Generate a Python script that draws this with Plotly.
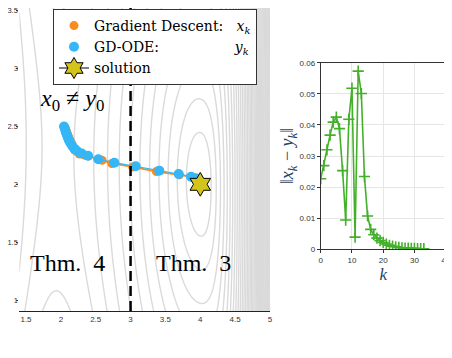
import numpy as np
import plotly.graph_objects as go

# GD-ODE iterates y_k
ode_x = [2.045, 2.058, 2.070, 2.083, 2.097, 2.114, 2.136, 2.163, 2.198, 2.240,
         2.300, 2.390, 2.537, 2.767, 3.074, 3.412, 3.690, 3.867, 3.935, 3.965,
         3.980, 3.988, 3.993, 3.996, 3.998, 3.999, 3.999, 4.000, 4.000, 4.000,
         4.000, 4.000, 4.000, 4.000]
ode_y = [2.500, 2.478, 2.455, 2.432, 2.408, 2.383, 2.357, 2.331, 2.306, 2.284,
         2.266, 2.247, 2.216, 2.187, 2.156, 2.118, 2.089, 2.066, 2.052, 2.040,
         2.031, 2.024, 2.018, 2.013, 2.010, 2.007, 2.005, 2.004, 2.003, 2.002,
         2.001, 2.001, 2.000, 2.000]

# gradient descent iterates x_k
gd_x = [2.064, 2.080, 2.095, 2.112, 2.130, 2.150, 2.166, 2.177, 2.197, 2.265,
        2.342, 2.392, 2.592, 2.731, 3.030, 3.370, 3.700, 3.872, 3.937, 3.966,
        3.980, 3.988, 3.993, 3.996, 3.998, 3.999, 4.000, 4.000, 4.000, 4.000,
        4.000, 4.000, 4.000, 4.000]
gd_y = [2.486, 2.462, 2.436, 2.410, 2.384, 2.359, 2.336, 2.315, 2.296, 2.262,
        2.252, 2.244, 2.207, 2.180, 2.150, 2.110, 2.082, 2.064, 2.050, 2.038,
        2.030, 2.023, 2.017, 2.013, 2.009, 2.007, 2.005, 2.004, 2.003, 2.002,
        2.001, 2.001, 2.000, 2.000]

sol_x = [4.0]
sol_y = [2.0]

# ||x_k - y_k||
k_vals = list(range(34))
diff = [0.0227, 0.0269, 0.0320, 0.0367, 0.0409, 0.0425, 0.0388, 0.0253, 0.0094, 0.0418,
        0.0518, 0.0039, 0.0573, 0.0501, 0.0234, 0.0107, 0.0064, 0.0047, 0.0036, 0.0028,
        0.0022, 0.0017, 0.0013, 0.0010, 0.0008, 0.0006, 0.0005, 0.0004, 0.0004, 0.0003,
        0.0003, 0.0002, 0.0002, 0.0002]
diff_ticks = [0, 0.01, 0.02, 0.03, 0.04, 0.05, 0.06]
diff_labels = ["0", "0.01", "0.02", "0.03", "0.04", "0.05", "0.06"]

# objective landscape (for the grey level sets)
gx = np.linspace(1.4, 5.0, 480)
gy = np.linspace(0.9, 3.6, 360)
X, Y = np.meshgrid(gx, gy)
d = X - 4
u = np.where(d >= 0, d * np.exp(1.6 * d), -d - 0.029 * d ** 4)
c = 2 + 0.14 * (4 - X)
Z = np.sqrt(u ** 2 + 0.2 * (Y - c) ** 2)

serif = "DejaVu Serif"
tserif = "Liberation Serif"
sans = "Liberation Sans"
orange = "#f98c1c"
blue = "#35b6f6"
green = "#43b02a"

# page body keeps an 8px margin, so the figure is 444x350 placed at (8, 8)
W, H = 444, 350

def px(x):
    return (x - 8) / W

def py(y):
    return 1 - (y - 8) / H

fig = go.Figure()

fig.add_trace(go.Contour(x=gx, y=gy, z=Z, showscale=False, hoverinfo="skip",
                         contours=dict(coloring="lines", start=0.2, end=12, size=0.13),
                         colorscale=[[0, "#dadada"], [1, "#dadada"]],
                         line=dict(width=1.4), showlegend=False))

fig.add_trace(go.Scatter(x=gd_x, y=gd_y, mode="lines", line=dict(color=orange, width=1.8),
                         showlegend=False))
fig.add_trace(go.Scatter(x=gd_x, y=gd_y, mode="markers", marker=dict(color=orange, size=9),
                         name="Gradient Descent:" + "\u00a0" * 3 + "<i>x<sub>k</sub></i>"))
fig.add_trace(go.Scatter(x=ode_x, y=ode_y, mode="lines", line=dict(color=blue, width=1.2),
                         showlegend=False))
fig.add_trace(go.Scatter(x=ode_x, y=ode_y, mode="markers", marker=dict(color=blue, size=10),
                         name="GD-ODE:" + "\u00a0" * 17 + "<i>y<sub>k</sub></i>"))
fig.add_trace(go.Scatter(x=sol_x, y=sol_y, mode="lines+markers", name="solution",
                         line=dict(color="black", width=1),
                         marker=dict(symbol="hexagram", size=18, color="#d3c41b",
                                     line=dict(color="black", width=1))))

# right panel
fig.add_trace(go.Scatter(x=k_vals, y=diff, mode="lines+markers", xaxis="x2", yaxis="y2",
                         line=dict(color=green, width=1.6), showlegend=False,
                         marker=dict(symbol="cross-thin", size=8, color=green,
                                     line=dict(color=green, width=1.6))))

tickf = dict(family=sans, size=8, color="#333")
fig.update_layout(
    width=W, height=H, margin=dict(l=0, r=0, t=0, b=0),
    plot_bgcolor="white", paper_bgcolor="white",
    xaxis=dict(domain=[px(19.3), px(270)], range=[1.404, 5], dtick=0.5, tick0=1.5,
               showgrid=False, zeroline=False, showline=True, linecolor="#222",
               ticks="", tickfont=tickf, anchor="y", automargin=False,
               ticklabeloverflow="allow"),
    yaxis=dict(domain=[py(311), 1], range=[0.905, 3.524], dtick=0.5, tick0=1,
               showgrid=False, zeroline=False, showline=False, ticks="outside",
               ticklen=2, tickcolor="#333", ticklabelstandoff=-3,
               tickfont=dict(family=sans, size=7.5, color="#333"),
               anchor="x", automargin=False, ticklabeloverflow="allow"),
    yaxis3=dict(overlaying="y", side="right", range=[0.905, 3.524], dtick=0.5, tick0=1,
                showgrid=False, zeroline=False, showline=True, linecolor="#222",
                ticks="outside", ticklen=5, tickcolor="#333", showticklabels=False,
                anchor="x", automargin=False),
    xaxis2=dict(domain=[px(320.7), px(445.7)], range=[0, 40], dtick=10, anchor="y2",
                showgrid=True, gridcolor="#e6e6e6", zeroline=False, showline=True,
                mirror=True, linecolor="#333", ticks="outside", ticklen=3,
                tickcolor="#333", tickfont=tickf, automargin=False,
                ticklabeloverflow="allow",
                title=dict(text="<i>k</i>", font=dict(family=tserif, size=17), standoff=2)),
    yaxis2=dict(domain=[py(249.3), py(62.7)], range=[0, 0.06], anchor="x2",
                tickvals=diff_ticks, ticktext=diff_labels,
                showgrid=True, gridcolor="#e6e6e6", zeroline=False,
                showline=True, mirror=True, linecolor="#333", ticks="outside", ticklen=3,
                tickcolor="#333", tickfont=tickf, automargin=False,
                title=dict(text="\u2016<i>x<sub>k</sub></i> \u2212 <i>y<sub>k</sub></i>\u2016",
                           font=dict(family=tserif, size=18), standoff=0)),
    legend=dict(x=px(53), y=py(9), xanchor="left", yanchor="top",
                bgcolor="white", bordercolor="#333", borderwidth=1,
                font=dict(family=serif, size=14, color="black"), tracegroupgap=0),
    shapes=[dict(type="line", xref="x", yref="y domain", x0=3, x1=3, y0=0, y1=1,
                 line=dict(color="black", width=2.5, dash="10px,5px"))],
    annotations=[
        dict(x=2.16, y=2.73, xref="x", yref="y", showarrow=False,
             text="<i>x</i><sub>0</sub> \u2260 <i>y</i><sub>0</sub>",
             font=dict(family=tserif, size=24, color="black")),
        dict(x=2.10, y=1.32, xref="x", yref="y", showarrow=False, text="Thm.  4",
             font=dict(family=tserif, size=24, color="black")),
        dict(x=3.90, y=1.32, xref="x", yref="y", showarrow=False, text="Thm.  3",
             font=dict(family=tserif, size=24, color="black")),
        dict(x=0, y=py(354), xref="paper", yref="paper", xanchor="left", yanchor="top",
             showarrow=False, text="<b>Figure 2:</b>",
             font=dict(family=tserif, size=18, color="#444")),
    ],
)

fig.write_html("out.html")
